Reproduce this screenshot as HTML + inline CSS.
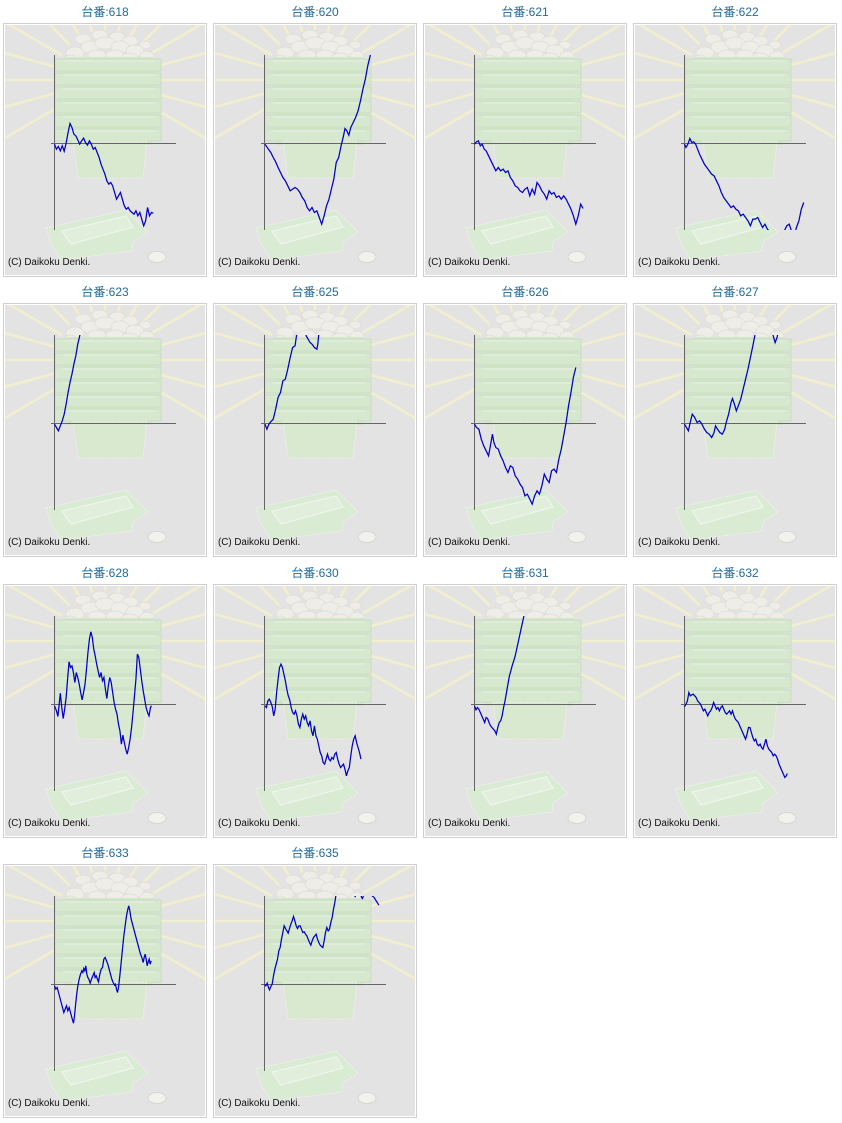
<!DOCTYPE html>
<html><head><meta charset="utf-8"><style>
html,body{margin:0;padding:0;background:#fff;}
body{width:842px;height:1123px;position:relative;overflow:hidden;font-family:"Liberation Sans","Noto Sans CJK JP",sans-serif;}
.t{position:absolute;width:204px;text-align:center;font-size:12px;line-height:16px;color:#236b98;font-family:"Liberation Sans","Noto Sans CJK JP",sans-serif;}
.p{position:absolute;width:200px;height:250px;padding:1px;border:1px solid #cfcfcf;background:#fff;}
.p svg{display:block;}
</style></head><body>
<svg width="0" height="0" style="position:absolute">
<defs>
<clipPath id="c"><rect x="0" y="30" width="200" height="175"/></clipPath>
<symbol id="bg" viewBox="0 0 200 250">
<rect width="200" height="250" fill="#e3e3e3"/>
<g stroke="#f1efcd" stroke-width="2.6">
<line x1="143.3" y1="80" x2="221" y2="125"/>
<line x1="148.3" y1="67.9" x2="235" y2="91.2"/>
<line x1="150" y1="55" x2="240" y2="55"/>
<line x1="148.3" y1="42.1" x2="235" y2="18.8"/>
<line x1="143.3" y1="30" x2="221" y2="-15"/>
<line x1="135.4" y1="19.6" x2="199" y2="-44"/>
<line x1="125" y1="11.7" x2="170" y2="-66"/>
<line x1="112.9" y1="6.7" x2="136" y2="-80"/>
<line x1="100" y1="5" x2="100" y2="-85"/>
<line x1="87.1" y1="6.7" x2="63.8" y2="-80"/>
<line x1="75" y1="11.7" x2="30" y2="-66"/>
<line x1="64.6" y1="19.6" x2="1" y2="-44"/>
<line x1="56.7" y1="30" x2="-21" y2="-15"/>
<line x1="51.7" y1="42.1" x2="-35" y2="18.8"/>
<line x1="50" y1="55" x2="-40" y2="55"/>
<line x1="51.7" y1="67.9" x2="-35" y2="91.2"/>
<line x1="56.7" y1="80" x2="-21" y2="125"/>
</g>
<g fill="#eeede7" stroke="#dedcd4" stroke-width="0.7">
<ellipse cx="78" cy="14" rx="8" ry="5"/><ellipse cx="95" cy="10" rx="8" ry="5"/><ellipse cx="112" cy="12" rx="8" ry="5"/><ellipse cx="125" cy="16" rx="8" ry="5"/><ellipse cx="140" cy="20" rx="6" ry="4"/>
<ellipse cx="70" cy="28" rx="9" ry="6"/><ellipse cx="85" cy="22" rx="9" ry="6"/><ellipse cx="100" cy="18" rx="10" ry="6"/><ellipse cx="115" cy="22" rx="9" ry="6"/><ellipse cx="130" cy="26" rx="9" ry="6"/><ellipse cx="142" cy="31" rx="7" ry="5"/>
<ellipse cx="65" cy="34" rx="6" ry="4"/><ellipse cx="92" cy="30" rx="9" ry="5"/><ellipse cx="110" cy="30" rx="9" ry="5"/><ellipse cx="125" cy="32" rx="8" ry="4"/>
</g>
<rect x="60" y="32" width="88" height="88" fill="#d3e5ca"/>
<g fill="#d6e8ce" stroke="#c7ddbe" stroke-width="0.9">
<rect x="50" y="34" width="106" height="12"/>
<rect x="50" y="48" width="106" height="12"/>
<rect x="50" y="62" width="106" height="12"/>
<rect x="50" y="76" width="106" height="12"/>
<rect x="50" y="90" width="106" height="12"/>
<rect x="50" y="104" width="106" height="12"/>
</g>
<g stroke="#e3eedf" stroke-width="1.5">
<line x1="58" y1="36" x2="150" y2="36"/><line x1="58" y1="50" x2="150" y2="50"/><line x1="58" y1="64" x2="150" y2="64"/>
<line x1="58" y1="78" x2="150" y2="78"/><line x1="58" y1="92" x2="150" y2="92"/><line x1="58" y1="106" x2="150" y2="106"/>
</g>
<polygon points="68,116 142,116 138,153 73,153" fill="#d8e9d0" stroke="#f0f0f0" stroke-width="0.8" stroke-dasharray="2 1"/>
<polygon points="41,203 121,185 143,207 128,217 127,226 56,235 46,219" fill="#d9ebd3" stroke="#f2f2f2" stroke-width="0.8" stroke-dasharray="2 1"/>
<polygon points="57,206 121,191 128,202 66,219" fill="#e1eedc" stroke="#eef5ec" stroke-width="1.2"/>
<ellipse cx="152" cy="232" rx="9" ry="5.5" fill="#f1f1ed" stroke="#d2d2d0" stroke-width="0.8"/>
<text x="3" y="240" font-size="9.8" fill="#111" font-family="Liberation Sans, sans-serif">(C) Daikoku Denki.</text>
<line x1="49.5" y1="30" x2="49.5" y2="205" stroke="#666" stroke-width="1"/>
<line x1="46" y1="118.5" x2="171" y2="118.5" stroke="#666" stroke-width="1"/>
</symbol>
</defs>
</svg>

<!-- Row 1 -->
<div class="t" style="left:3px;top:4px">台番:618</div>
<div class="p" style="left:3px;top:23px"><svg width="200" height="250"><use href="#bg" width="200" height="250"/><g clip-path="url(#c)"><polyline fill="none" stroke="#0000c8" stroke-width="1.25" vector-effect="non-scaling-stroke" transform="translate(49.5,118.5) scale(0.4847,0.3333) translate(-8,-273)" points="8,275 12,290 16,282 20,295 24,280 28,296 32,272 36,240 40,213 44,225 48,245 52,250 56,262 60,275 64,265 68,257 72,270 76,278 80,265 84,275 88,290 92,285 96,300 100,315 104,335 108,350 112,365 116,385 120,395 124,390 128,400 132,420 136,440 140,430 144,420 148,440 152,460 156,470 160,465 164,475 168,480 172,485 176,475 180,490 184,480 188,500 192,520 196,505 200,465 204,490 208,480 212,482"/></g></svg></div>

<div class="t" style="left:213px;top:4px">台番:620</div>
<div class="p" style="left:213px;top:23px"><svg width="200" height="250"><use href="#bg" width="200" height="250"/><g clip-path="url(#c)"><polyline fill="none" stroke="#0000c8" stroke-width="1.25" vector-effect="non-scaling-stroke" transform="translate(49.5,118.5) scale(0.4847,0.3333) translate(-442,-273)" points="443,275 450,290 455,300 460,315 465,328 470,345 475,360 480,375 485,385 490,400 495,415 500,410 505,405 510,410 515,420 520,435 525,445 530,465 535,475 540,465 545,480 550,475 555,495 560,515 565,490 570,460 575,440 580,410 585,380 590,330 595,315 600,280 605,250 608,228 612,235 616,248 620,225 625,210 630,195 635,175 640,145 645,110 650,80 655,40 660,10 662,-5"/></g></svg></div>

<div class="t" style="left:423px;top:4px">台番:621</div>
<div class="p" style="left:423px;top:23px"><svg width="200" height="250"><use href="#bg" width="200" height="250"/><g clip-path="url(#c)"><polyline fill="none" stroke="#0000c8" stroke-width="1.25" vector-effect="non-scaling-stroke" transform="translate(49.5,118.5) scale(0.4847,0.3333) translate(-876,-273)" points="876,275 880,268 884,265 888,280 892,275 896,290 900,295 905,310 910,325 915,340 920,355 925,345 930,355 935,350 940,360 945,355 950,375 955,385 960,400 965,405 970,415 975,420 980,410 985,405 990,430 995,410 1000,425 1005,390 1010,400 1015,415 1020,425 1025,440 1030,415 1035,425 1040,420 1045,435 1050,430 1055,440 1060,430 1065,440 1070,455 1075,470 1080,490 1085,515 1090,490 1095,455 1100,468"/></g></svg></div>

<div class="t" style="left:633px;top:4px">台番:622</div>
<div class="p" style="left:633px;top:23px"><svg width="200" height="250"><use href="#bg" width="200" height="250"/><g clip-path="url(#c)"><polyline fill="none" stroke="#0000c8" stroke-width="1.25" vector-effect="non-scaling-stroke" transform="translate(49.5,118.5) scale(0.4847,0.3333) translate(-1309,-273)" points="1309,275 1312,285 1316,275 1320,258 1324,270 1328,268 1332,275 1336,290 1340,305 1345,320 1350,335 1355,345 1360,355 1365,365 1370,370 1375,385 1380,400 1385,420 1390,435 1395,445 1400,455 1405,465 1410,460 1415,470 1420,475 1425,490 1430,485 1435,495 1440,505 1445,520 1450,500 1455,500 1460,495 1465,510 1470,525 1475,515 1480,530 1485,537 1490,550 1500,560 1510,550 1515,535 1520,520 1525,515 1530,537 1533,548 1537,540 1540,525 1545,505 1550,470 1555,450"/></g></svg></div>

<!-- Row 2 -->
<div class="t" style="left:3px;top:284px">台番:623</div>
<div class="p" style="left:3px;top:303px"><svg width="200" height="250"><use href="#bg" width="200" height="250"/><g clip-path="url(#c)"><polyline fill="none" stroke="#0000c8" stroke-width="1.25" vector-effect="non-scaling-stroke" transform="translate(49.5,118.5) scale(0.4847,0.3333) translate(-8,-273)" points="8,275 12,285 16,295 20,280 24,265 28,245 32,215 36,180 40,150 44,125 48,95 52,70 56,35 60,10 62,-5"/></g></svg></div>

<div class="t" style="left:213px;top:284px">台番:625</div>
<div class="p" style="left:213px;top:303px"><svg width="200" height="250"><use href="#bg" width="200" height="250"/><g clip-path="url(#c)"><polyline fill="none" stroke="#0000c8" stroke-width="1.25" vector-effect="non-scaling-stroke" transform="translate(49.5,118.5) scale(0.4847,0.3333) translate(-442,-273)" points="443,275 447,290 451,275 455,268 460,260 465,230 470,195 475,180 480,145 485,140 490,110 495,75 500,45 505,40 508,10 510,-10 525,-10 528,10 532,20 536,30 540,35 545,45 550,50 552,35 555,-10"/></g></svg></div>

<div class="t" style="left:423px;top:284px">台番:626</div>
<div class="p" style="left:423px;top:303px"><svg width="200" height="250"><use href="#bg" width="200" height="250"/><g clip-path="url(#c)"><polyline fill="none" stroke="#0000c8" stroke-width="1.25" vector-effect="non-scaling-stroke" transform="translate(49.5,118.5) scale(0.4847,0.3333) translate(-876,-273)" points="876,275 880,285 885,290 890,320 895,340 900,355 905,370 910,330 913,305 916,330 920,345 925,350 930,370 935,385 940,405 945,420 950,400 955,405 960,430 965,440 970,455 975,465 980,490 985,485 990,500 995,515 1000,490 1005,475 1010,485 1015,460 1020,425 1025,440 1030,450 1035,415 1040,410 1045,420 1050,380 1055,350 1060,310 1065,270 1070,220 1075,180 1080,135 1085,105"/></g></svg></div>

<div class="t" style="left:633px;top:284px">台番:627</div>
<div class="p" style="left:633px;top:303px"><svg width="200" height="250"><use href="#bg" width="200" height="250"/><g clip-path="url(#c)"><polyline fill="none" stroke="#0000c8" stroke-width="1.25" vector-effect="non-scaling-stroke" transform="translate(49.5,118.5) scale(0.4847,0.3333) translate(-1309,-273)" points="1309,275 1313,285 1317,295 1320,275 1325,245 1330,255 1335,270 1340,265 1345,275 1350,290 1355,300 1360,305 1365,315 1370,300 1373,280 1377,290 1382,300 1387,305 1392,290 1395,270 1400,245 1405,210 1408,198 1412,215 1416,235 1420,220 1425,200 1430,170 1435,140 1440,110 1445,75 1450,40 1454,10 1456,-10 1490,-10 1492,10 1496,30 1500,15 1503,-10"/></g></svg></div>

<!-- Row 3 -->
<div class="t" style="left:3px;top:565px">台番:628</div>
<div class="p" style="left:3px;top:584px"><svg width="200" height="250"><use href="#bg" width="200" height="250"/><g clip-path="url(#c)"><polyline fill="none" stroke="#0000c8" stroke-width="1.25" vector-effect="non-scaling-stroke" transform="translate(49.5,118.5) scale(0.4847,0.3333) translate(-8,-276)" points="8,280 12,295 15,312 18,270 20,242 23,285 26,318 29,290 32,255 35,200 38,148 41,165 44,160 47,180 50,210 53,180 56,195 59,215 62,240 65,262 68,240 71,215 74,170 77,120 80,80 83,58 86,75 89,110 92,130 95,155 98,175 101,195 104,180 107,205 110,195 113,230 116,258 119,220 122,195 125,210 128,240 131,270 134,290 137,305 140,335 143,355 146,395 149,368 152,390 155,410 158,425 161,405 164,380 167,345 170,300 173,250 176,200 179,125 182,135 185,170 188,205 191,235 194,260 197,285 200,300 203,310 206,285 208,280"/></g></svg></div>

<div class="t" style="left:213px;top:565px">台番:630</div>
<div class="p" style="left:213px;top:584px"><svg width="200" height="250"><use href="#bg" width="200" height="250"/><g clip-path="url(#c)"><polyline fill="none" stroke="#0000c8" stroke-width="1.25" vector-effect="non-scaling-stroke" transform="translate(49.5,118.5) scale(0.4847,0.3333) translate(-442,-276)" points="443,280 446,285 449,265 452,260 455,270 458,282 461,310 464,290 467,240 470,200 473,165 476,155 479,165 482,185 485,205 488,230 491,250 494,262 497,285 500,300 503,305 506,295 509,310 512,335 515,345 518,320 521,305 524,320 527,310 530,330 533,340 536,325 539,355 542,370 545,340 548,370 551,380 554,400 557,420 560,430 563,450 566,455 569,440 572,425 575,440 578,445 581,435 584,440 587,425 590,420 593,440 596,455 599,465 602,460 605,455 608,470 611,490 614,475 617,465 620,430 623,400 626,380 629,370 632,390 635,405 638,420 641,440"/></g></svg></div>

<div class="t" style="left:423px;top:565px">台番:631</div>
<div class="p" style="left:423px;top:584px"><svg width="200" height="250"><use href="#bg" width="200" height="250"/><g clip-path="url(#c)"><polyline fill="none" stroke="#0000c8" stroke-width="1.25" vector-effect="non-scaling-stroke" transform="translate(49.5,118.5) scale(0.4847,0.3333) translate(-876,-276)" points="876,280 879,292 882,285 885,290 888,300 891,310 894,320 897,330 900,315 903,318 906,330 909,340 912,345 915,350 918,355 921,365 924,345 927,330 930,325 933,310 936,285 939,265 942,240 945,215 948,190 951,175 954,158 957,145 960,130 963,110 966,90 969,70 972,50 975,30 978,10 980,-5"/></g></svg></div>

<div class="t" style="left:633px;top:565px">台番:632</div>
<div class="p" style="left:633px;top:584px"><svg width="200" height="250"><use href="#bg" width="200" height="250"/><g clip-path="url(#c)"><polyline fill="none" stroke="#0000c8" stroke-width="1.25" vector-effect="non-scaling-stroke" transform="translate(49.5,118.5) scale(0.4847,0.3333) translate(-1309,-276)" points="1309,282 1312,275 1315,265 1318,240 1321,250 1324,247 1327,245 1330,250 1333,255 1336,265 1339,270 1342,275 1345,285 1348,295 1351,290 1354,300 1357,310 1360,300 1363,295 1366,285 1369,270 1372,280 1375,290 1378,285 1381,295 1384,285 1387,280 1390,290 1393,300 1396,305 1399,300 1402,295 1405,305 1408,295 1411,310 1414,320 1417,325 1420,330 1423,340 1426,350 1429,360 1432,370 1435,380 1438,365 1441,345 1444,345 1447,360 1450,375 1453,385 1456,380 1459,395 1462,400 1465,395 1468,405 1471,410 1474,395 1477,380 1480,400 1483,410 1486,415 1489,420 1492,430 1495,425 1498,430 1501,440 1504,455 1507,465 1510,475 1513,485 1516,495 1519,490 1521,483"/></g></svg></div>

<!-- Row 4 -->
<div class="t" style="left:3px;top:845px">台番:633</div>
<div class="p" style="left:3px;top:864px"><svg width="200" height="250"><use href="#bg" width="200" height="250"/><g clip-path="url(#c)"><polyline fill="none" stroke="#0000c8" stroke-width="1.25" vector-effect="non-scaling-stroke" transform="translate(49.5,118.5) scale(0.3333,0.3333) translate(-13,-276)" points="13,280 17,290 21,285 25,300 29,315 33,330 37,345 41,360 45,350 49,340 53,355 57,345 61,360 65,375 70,392 73,370 76,340 79,310 83,280 87,260 91,245 95,235 98,240 101,228 104,235 107,220 110,245 113,255 116,260 120,272 124,260 128,250 132,240 135,255 138,250 141,258 145,268 149,245 153,230 157,225 161,200 165,195 169,205 173,215 177,230 181,245 185,260 189,270 193,278 196,275 199,290 202,300 205,285 209,250 213,210 217,170 221,130 225,100 229,70 233,50 236,40 239,55 243,80 247,95 251,110 255,125 259,140 263,155 267,170 271,185 275,195 279,210 282,195 285,185 288,200 291,220 294,208 297,200 300,215 303,205"/></g></svg></div>

<div class="t" style="left:213px;top:845px">台番:635</div>
<div class="p" style="left:213px;top:864px"><svg width="200" height="250"><use href="#bg" width="200" height="250"/><g clip-path="url(#c)"><polyline fill="none" stroke="#0000c8" stroke-width="1.25" vector-effect="non-scaling-stroke" transform="translate(49.5,118.5) scale(0.3333,0.3333) translate(-643,-276)" points="643,276 647,280 651,272 655,285 658,292 662,282 666,275 670,250 674,230 678,215 682,200 686,175 690,165 694,140 698,120 702,100 706,108 710,115 714,122 718,108 722,95 726,85 730,72 734,85 738,100 742,108 746,100 750,100 754,110 758,120 762,118 766,125 770,130 774,140 778,150 782,158 786,145 790,135 794,130 798,125 802,140 806,150 810,158 814,162 818,165 822,145 826,120 830,105 834,115 838,110 842,90 846,75 850,50 854,30 857,10 859,-10 912,-8 915,14 918,-8 930,-8 934,15 937,18 941,5 944,-8 962,-8 966,10 972,15 976,22 980,28 986,38"/></g></svg></div>

</body></html>
